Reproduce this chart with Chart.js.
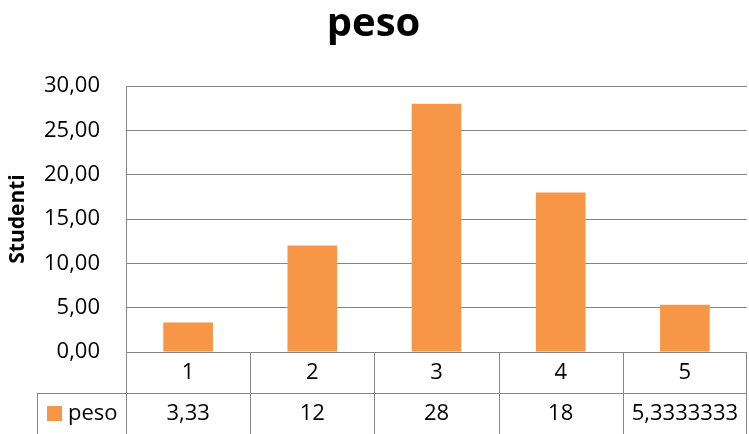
<!DOCTYPE html>
<html>
<head>
<meta charset="utf-8">
<script src="https://cdn.jsdelivr.net/npm/chart.js@4.4.0/dist/chart.umd.min.js"></script>
<style>
  body { margin: 0; background: #fff; }
  canvas { display: block; }
</style>
</head>
<body>
<canvas id="grafico" width="749" height="434"></canvas>
<script>
// dati
const categorie = ['1', '2', '3', '4', '5'];
const peso = [3.33, 12, 28, 18, 5.3333333];
const nomeSerie = 'peso';
const tickY = [0, 5, 10, 15, 20, 25, 30];

const ARANCIO = '#F79646';
const GRIGIO = '#868686';
const FONT = '"Open Sans", sans-serif';

const virgola = v => String(v).replace('.', ',');

// tabella dati sotto il grafico (stile Excel)
const tabellaDati = {
    id: 'tabellaDati',
    afterDraw(chart) {
        const { ctx, chartArea, scales: { x } } = chart;
        const rowH = 41;
        const top = chartArea.bottom;
        const mid = top + rowH;
        const bottom = mid + rowH;
        const half = (x.getPixelForValue(1) - x.getPixelForValue(0)) / 2;
        const leftCol = chartArea.left - 89;

        ctx.save();
        ctx.strokeStyle = GRIGIO;
        ctx.lineWidth = 1;
        ctx.beginPath();
        ctx.moveTo(chartArea.left, top + 0.5);
        ctx.lineTo(chartArea.right, top + 0.5);
        ctx.moveTo(leftCol, mid + 0.5);
        ctx.lineTo(chartArea.right, mid + 0.5);
        ctx.moveTo(leftCol + 0.5, mid);
        ctx.lineTo(leftCol + 0.5, bottom);
        categorie.forEach((c, i) => {
            const xl = Math.round(x.getPixelForValue(i) - half) + 0.5;
            ctx.moveTo(xl, top);
            ctx.lineTo(xl, bottom);
        });
        const xr = Math.round(chartArea.right) - 0.5;
        ctx.moveTo(xr, top);
        ctx.lineTo(xr, bottom);
        ctx.stroke();

        ctx.fillStyle = '#000';
        ctx.font = '22px ' + FONT;
        ctx.textAlign = 'center';
        ctx.textBaseline = 'middle';
        categorie.forEach((c, i) => {
            const cx = x.getPixelForValue(i);
            ctx.fillText(c, cx, top + rowH / 2);
            ctx.fillText(virgola(peso[i]), cx, mid + rowH / 2);
        });

        // chiave della legenda
        ctx.fillStyle = ARANCIO;
        ctx.fillRect(leftCol + 10, mid + 13, 15, 15);
        ctx.fillStyle = '#000';
        ctx.textAlign = 'left';
        ctx.fillText(nomeSerie, leftCol + 31, mid + rowH / 2);
        ctx.restore();
    }
};

new Chart(document.getElementById('grafico'), {
    type: 'bar',
    data: {
        labels: categorie,
        datasets: [{
            label: nomeSerie,
            data: peso,
            backgroundColor: ARANCIO,
            borderWidth: 0,
            barPercentage: 0.4,
            categoryPercentage: 1
        }]
    },
    options: {
        responsive: false,
        animation: false,
        layout: { padding: { left: 0, right: 2, top: 0, bottom: 82 } },
        plugins: {
            legend: { display: false },
            tooltip: { enabled: false },
            title: {
                display: true,
                text: 'peso',
                color: '#000',
                font: { family: FONT, size: 40, weight: 'bold' },
                padding: { top: 1, bottom: 37 }
            }
        },
        scales: {
            x: { display: false },
            y: {
                min: 0,
                max: 30,
                afterBuildTicks: scale => { scale.ticks = tickY.map(v => ({ value: v })); },
                afterFit: scale => { scale.width = 126; },
                grid: { color: GRIGIO, drawTicks: false },
                border: { color: GRIGIO },
                ticks: {
                    color: '#000',
                    padding: 26,
                    font: { family: FONT, size: 22 },
                    callback: v => v.toFixed(2).replace('.', ',')
                },
                title: {
                    display: true,
                    text: 'Studenti',
                    color: '#000',
                    font: { family: FONT, size: 21, weight: 'bold' },
                    padding: { top: 5, bottom: 0 }
                }
            }
        }
    },
    plugins: [tabellaDati]
});
</script>
</body>
</html>
